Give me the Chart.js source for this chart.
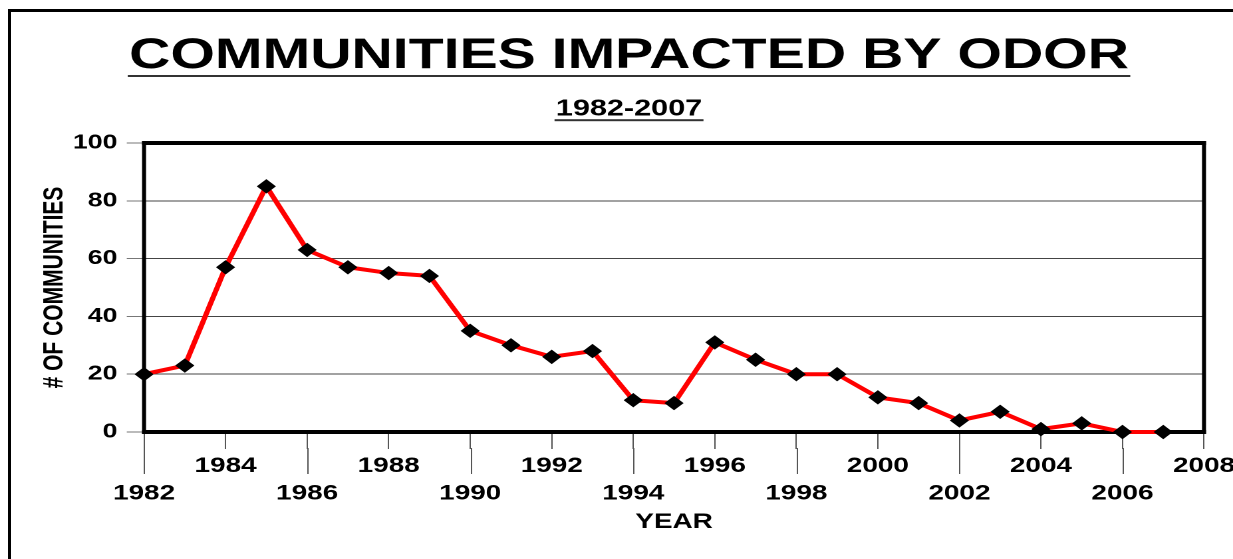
<!DOCTYPE html>
<html>
<head>
<meta charset="utf-8">
<script src="https://cdn.jsdelivr.net/npm/chart.js@4"></script>
<style>
html, body { margin: 0; padding: 0; background: #fff; overflow: hidden; width: 1233px; height: 559px; }
#stage { position: absolute; left: 0; top: 0; width: 927px; height: 559px; transform: scaleX(1.3301); transform-origin: 0 0; }
#frame { position: absolute; left: 8px; top: 9px; right: 0; bottom: 0; border-left: 3px solid #000; border-top: 3px solid #000; pointer-events: none; }
canvas { display: block; }
</style>
</head>
<body>
<div id="stage"><canvas id="c" width="927" height="559"></canvas></div>
<div id="frame"></div>
<script>
// ---- data ----
const years = [1982,1983,1984,1985,1986,1987,1988,1989,1990,1991,1992,1993,1994,1995,1996,1997,1998,1999,2000,2001,2002,2003,2004,2005,2006,2007];
const communities = [20,23,57,85,63,57,55,54,35,30,26,28,11,10,31,25,20,20,12,10,4,7,1,3,0,0];
const xTickYears = [1982,1984,1986,1988,1990,1992,1994,1996,1998,2000,2002,2004,2006,2008];
const yTickValues = [0,20,40,60,80,100];
const titleText = 'COMMUNITIES IMPACTED BY ODOR';
const subtitleText = '1982-2007';
const xAxisTitle = 'YEAR';
const yAxisTitle = '# OF COMMUNITIES';

const FONT = '"Liberation Sans", Arial, sans-serif';
const isLowerRow = v => Math.round((v - xTickYears[0]) / 2) % 2 === 0;

const decor = {
  id: 'decor',
  beforeDatasetsDraw(chart) {
    const {ctx, chartArea: a} = chart;
    ctx.save();
    ctx.fillStyle = '#000';
    ctx.fillRect(a.left - 1.5, a.top - 2, a.right - a.left + 3, 4);
    ctx.fillRect(a.left - 1.5, a.bottom - 2, a.right - a.left + 3, 4);
    ctx.fillRect(a.left - 1.5, a.top - 2, 3, a.bottom - a.top + 4);
    ctx.fillRect(a.right - 1.5, a.top - 2, 3, a.bottom - a.top + 4);
    ctx.restore();
  },
  afterDraw(chart) {
    const {ctx, chartArea: a} = chart;
    const xs = chart.scales.x;
    ctx.save();
    ctx.strokeStyle = '#555';
    ctx.lineWidth = 1;
    xTickYears.forEach(v => {
      if (isLowerRow(v)) {
        const px = Math.round(xs.getPixelForValue(v)) + 0.5;
        ctx.beginPath();
        ctx.moveTo(px, a.bottom + 16);
        ctx.lineTo(px, a.bottom + 42);
        ctx.stroke();
      }
    });
    const tb = chart.titleBlock;
    const cx = (tb.left + tb.right) / 2;
    ctx.fillStyle = '#333';
    ctx.font = 'bold 43px ' + FONT;
    let w = ctx.measureText(titleText).width;
    ctx.fillRect(cx - w / 2 - 1, tb.top + 30.2 + 25.8 + 19, w + 2, 2);
    ctx.font = 'bold 23px ' + FONT;
    w = ctx.measureText(subtitleText).width;
    ctx.fillRect(cx - w / 2 - 1, tb.bottom + 13.6 + 13.8 + 10, w + 2, 2);
    ctx.restore();
  }
};

new Chart(document.getElementById('c'), {
  type: 'line',
  data: {
    datasets: [{
      data: years.map((y, i) => ({x: y, y: communities[i]})),
      borderColor: '#ff0000',
      borderWidth: 4,
      tension: 0,
      pointStyle: 'rectRot',
      pointRadius: 6.5,
      pointBackgroundColor: '#000',
      pointBorderColor: '#000',
      pointBorderWidth: 1,
      clip: false
    }]
  },
  plugins: [decor],
  options: {
    responsive: false,
    devicePixelRatio: 2,
    animation: false,
    layout: { padding: { left: 40.6, right: 21.8, top: 0, bottom: 0 } },
    plugins: {
      legend: { display: false },
      tooltip: { enabled: false },
      title: {
        display: true, text: titleText, color: '#000',
        font: { family: FONT, weight: 'bold', size: 43, lineHeight: 1.2 },
        padding: { top: 30.2, bottom: 0 }
      },
      subtitle: {
        display: true, text: subtitleText, color: '#000',
        font: { family: FONT, weight: 'bold', size: 23, lineHeight: 1.2 },
        padding: { top: 13.6, bottom: 20 }
      }
    },
    scales: {
      x: {
        type: 'linear', min: 1982, max: 2008,
        afterBuildTicks: s => { s.ticks = xTickYears.map(v => ({value: v})); },
        afterFit: s => { s.height = 127; s.paddingLeft = 0; s.paddingRight = 0; },
        border: { display: false },
        grid: { drawOnChartArea: false, drawTicks: true, tickLength: 17, tickColor: '#555', tickWidth: 1 },
        ticks: {
          color: '#000', padding: 3, maxRotation: 0, autoSkip: false,
          font: { family: FONT, weight: 'bold', size: 21, lineHeight: 1.33 },
          callback: v => isLowerRow(v) ? ['', String(v)] : [String(v), '']
        },
        title: {
          display: true, text: xAxisTitle, color: '#000',
          font: { family: FONT, weight: 'bold', size: 21, lineHeight: 1.2 },
          padding: { top: 0, bottom: 24 }
        }
      },
      y: {
        min: 0, max: 100,
        afterBuildTicks: s => { s.ticks = yTickValues.map(v => ({value: v})); },
        afterFit: s => { s.width = 67.7; },
        border: { display: false },
        grid: { color: '#444', lineWidth: 1, drawTicks: true, tickLength: 13, tickColor: '#777', tickWidth: 1 },
        ticks: {
          color: '#000', padding: 7,
          font: { family: FONT, weight: 'bold', size: 20 }
        },
        title: {
          display: true, text: yAxisTitle, color: '#000',
          font: { family: FONT, weight: 'bold', size: 21, lineHeight: 1.2 },
          padding: { top: -11.8, bottom: 0 }
        }
      }
    }
  }
});
</script>
</body>
</html>
